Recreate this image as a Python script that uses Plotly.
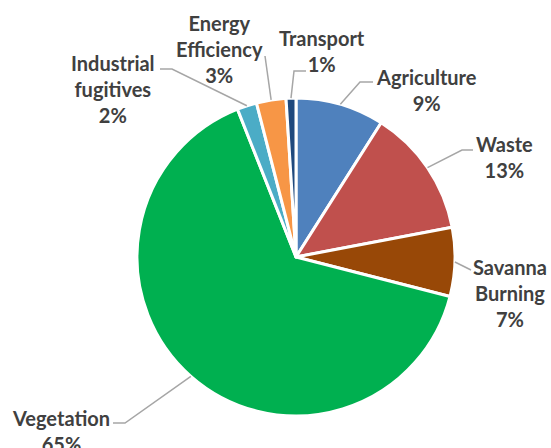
import math
import plotly.graph_objects as go

# Emission shares by source (%)
sources = ["Agriculture", "Waste", "Savanna Burning", "Vegetation",
           "Industrial fugitives", "Energy Efficiency", "Transport"]
shares = [9, 13, 7, 65, 2, 3, 1]
label_lines = [["Agriculture"], ["Waste"], ["Savanna", "Burning"], ["Vegetation"],
               ["Industrial", "fugitives"], ["Energy", "Efficiency"], ["Transport"]]
colors = ["#4F81BD", "#C0504D", "#984807", "#00B050",
          "#4BACC6", "#F79646", "#1F497D"]

W, H = 551, 448
CX, CY, R = 296, 257, 159

# label block centres (px) and leader-line elbow/end points (px)
label_pos = [(426, 90), (504, 157), (510, 293), (61, 431),
             (113, 89), (219, 49), (322, 51)]
leader_pts = [[(360, 82), (373, 82)],
              [(462, 150), (473, 150)],
              [(471, 270)],
              [(125, 423), (113, 423)],
              [(172, 69), (160, 69)],
              [(265, 56)],
              [(294, 71), (306, 71)]]


def px(x, y):
    return x / W, 1 - y / H


fig = go.Figure(go.Pie(
    labels=sources,
    values=shares,
    sort=False,
    direction="clockwise",
    rotation=0,
    marker=dict(colors=colors, line=dict(color="white", width=3)),
    textinfo="none",
    hoverinfo="label+percent",
    domain=dict(x=[(CX - R) / W, (CX + R) / W], y=[1 - (CY + R) / H, 1 - (CY - R) / H]),
))

total = sum(shares)
cum = 0
shapes = []
annotations = []
for name, v, lines, (lx, ly), pts in zip(sources, shares, label_lines, label_pos, leader_pts):
    mid = (cum + v / 2) / total * 2 * math.pi
    cum += v
    ax = CX + R * math.sin(mid)
    ay = CY - R * math.cos(mid)
    path_pts = [(ax, ay)] + pts
    d = "M " + " L ".join(f"{px(x, y)[0]:.5f},{px(x, y)[1]:.5f}" for x, y in path_pts)
    shapes.append(dict(type="path", path=d, xref="paper", yref="paper",
                       line=dict(color="#A6A6A6", width=1.5)))
    pct = round(v / total * 100)
    text = "<br>".join(f"<b>{t}</b>" for t in lines + [f"{pct}%"])
    x, y = px(lx, ly)
    annotations.append(dict(x=x, y=y, xref="paper", yref="paper", text=text,
                            showarrow=False, xanchor="center", yanchor="middle",
                            align="center",
                            font=dict(family="Lato", size=20, color="#404040")))

fig.update_layout(
    width=W, height=H,
    margin=dict(l=0, r=0, t=0, b=0),
    paper_bgcolor="white",
    showlegend=False,
    shapes=shapes,
    annotations=annotations,
)

fig.write_html("out.html")
